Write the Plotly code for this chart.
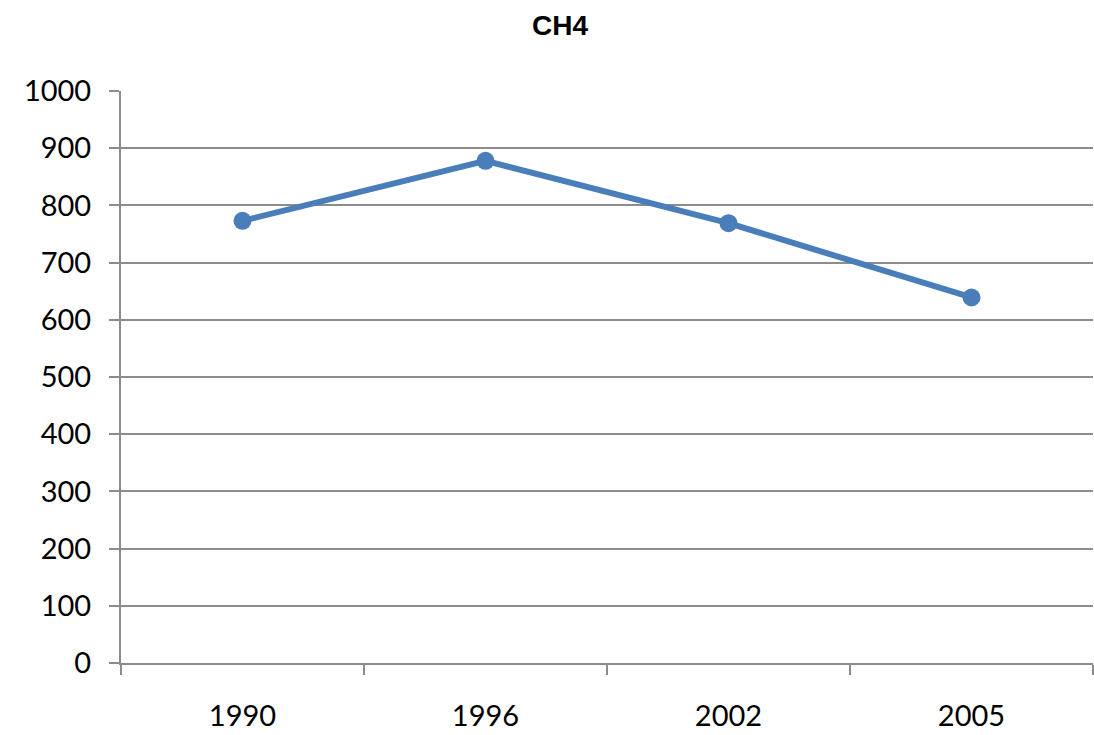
import plotly.graph_objects as go

years = ["1990", "1996", "2002", "2005"]
ch4 = [773, 878, 769, 639]
y_ticks = list(range(0, 1001, 100))

line_color = "#4A7EBB"
grid_color = "#8C8C8C"
tick_font = dict(family="Lato, Open Sans, sans-serif", size=29, color="#000000")

fig = go.Figure(
    go.Scatter(
        x=years,
        y=ch4,
        mode="lines+markers",
        line=dict(color=line_color, width=6),
        marker=dict(color=line_color, size=18),
        showlegend=False,
    )
)

fig.update_layout(
    width=1094,
    height=735,
    paper_bgcolor="white",
    plot_bgcolor="white",
    margin=dict(l=121, r=1, t=91, b=72),
    title=dict(
        text="<b>CH4</b>",
        x=0.512,
        xanchor="center",
        y=0.966,
        yanchor="middle",
        font=dict(family="Liberation Sans, Arial, sans-serif", size=28, color="#000000"),
    ),
    xaxis=dict(
        type="category",
        range=[-0.5, 3.5],
        tickson="boundaries",
        ticks="outside",
        ticklen=10,
        tickwidth=2,
        tickcolor=grid_color,
        showline=True,
        linecolor=grid_color,
        linewidth=2,
        showgrid=False,
        tickfont=tick_font,
        ticklabelstandoff=26,
    ),
    yaxis=dict(
        range=[0, 1000],
        tickvals=y_ticks,
        ticks="outside",
        ticklen=10,
        tickwidth=2,
        tickcolor=grid_color,
        showline=True,
        linecolor=grid_color,
        linewidth=2,
        showgrid=True,
        gridcolor=grid_color,
        gridwidth=2,
        zeroline=False,
        tickfont=tick_font,
        ticklabelstandoff=12,
    ),
)

fig.write_html("out.html")
